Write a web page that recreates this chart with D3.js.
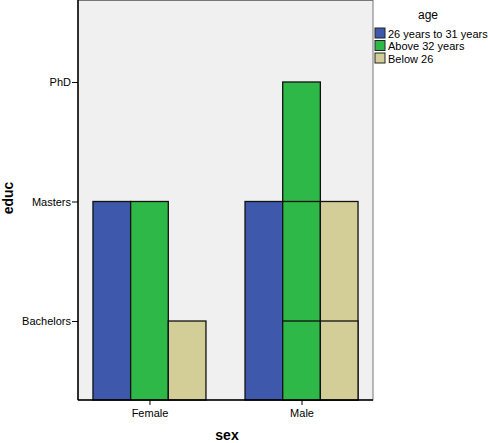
<!DOCTYPE html>
<html>
<head>
<meta charset="utf-8">
<script src="https://cdn.jsdelivr.net/npm/d3@7"></script>
<style>
  body { margin: 0; background: #fff; }
  text { font-family: "Liberation Sans", Arial, sans-serif; }
</style>
</head>
<body>
<svg id="chart" width="488" height="443"></svg>
<script>
// categories
var sexes = ["Female", "Male"];
var ages = ["26 years to 31 years", "Above 32 years", "Below 26"];
var educLevels = ["Bachelors", "Masters", "PhD"];

// one entry per case (sex, age, educ)
var caseSex  = ["Female", "Female", "Female", "Male", "Male", "Male", "Male", "Male", "Male"];
var caseAge  = ["26 years to 31 years", "Above 32 years", "Below 26",
                "26 years to 31 years", "Above 32 years", "Above 32 years", "Above 32 years",
                "Below 26", "Below 26"];
var caseEduc = ["Masters", "Masters", "Bachelors",
                "Masters", "Bachelors", "Masters", "PhD",
                "Bachelors", "Masters"];

var colors = ["#3e58ac", "#2eb848", "#d3ce97"];

var svg = d3.select("#chart");
var pL = 78, pR = 373, pT = 0, pB = 400;

var x0 = d3.scalePoint().domain(sexes).range([pL, pR]).padding(0.47);
var x1 = d3.scaleBand().domain(ages).range([-56.5, 56.5]);
var color = d3.scaleOrdinal().domain(ages).range(colors);

// educ as ordinal level 1..3
var y = d3.scaleLinear().domain([0.339, 3.686]).range([pB, pT]);
var level = function(e) { return educLevels.indexOf(e) + 1; };

// plot background
svg.append("rect")
  .attr("x", pL).attr("y", pT + 0.5)
  .attr("width", pR - pL).attr("height", pB - pT - 0.5)
  .attr("fill", "#f0f0f0")
  .attr("stroke", "#777").attr("stroke-width", 1);

var cases = caseSex.map(function(s, i) {
  return { sex: s, age: caseAge[i], educ: caseEduc[i] };
});
// taller bars first so shorter outlines show on top
cases.sort(function(a, b) { return level(b.educ) - level(a.educ); });

svg.append("g").selectAll("rect")
  .data(cases).enter().append("rect")
  .attr("x", function(d) { return x0(d.sex) + x1(d.age); })
  .attr("y", function(d) { return y(level(d.educ)); })
  .attr("width", x1.bandwidth())
  .attr("height", function(d) { return pB - y(level(d.educ)); })
  .attr("fill", function(d) { return color(d.age); })
  .attr("stroke", "#111")
  .attr("stroke-width", 1.3);

// axes
var yAxis = d3.axisLeft(y)
  .tickValues([1, 2, 3])
  .tickFormat(function(v) { return educLevels[v - 1]; })
  .tickSize(6).tickPadding(1).tickSizeOuter(0);
var gy = svg.append("g").attr("transform", "translate(" + pL + ",0)").call(yAxis);
gy.select(".domain").remove();
gy.selectAll("text").attr("font-size", 11).attr("fill", "#000")
  .style("font-family", "'Liberation Sans', Arial, sans-serif");

var xAxis = d3.axisBottom(x0).tickSize(5).tickPadding(4).tickSizeOuter(0);
var gx = svg.append("g").attr("transform", "translate(0," + pB + ")").call(xAxis);
gx.select(".domain").remove();
gx.selectAll("text").attr("font-size", 11).attr("fill", "#000")
  .style("font-family", "'Liberation Sans', Arial, sans-serif");

// axis lines
svg.append("line").attr("x1", pL).attr("x2", pL).attr("y1", pT).attr("y2", pB)
  .attr("stroke", "#000").attr("stroke-width", 1.5);
svg.append("line").attr("x1", pL).attr("x2", pR).attr("y1", pB).attr("y2", pB)
  .attr("stroke", "#000").attr("stroke-width", 1.5);

// axis titles
svg.append("text")
  .attr("transform", "translate(13,198) rotate(-90)")
  .attr("text-anchor", "middle")
  .attr("font-size", 14).attr("font-weight", "bold")
  .text("educ");
svg.append("text")
  .attr("x", 227).attr("y", 440)
  .attr("text-anchor", "middle")
  .attr("font-size", 14).attr("font-weight", "bold")
  .text("sex");

// legend
var legend = svg.append("g");
legend.append("text")
  .attr("x", 428).attr("y", 19)
  .attr("text-anchor", "middle")
  .attr("font-size", 12)
  .text("age");
var items = legend.selectAll("g.item").data(ages).enter().append("g")
  .attr("class", "item")
  .attr("transform", function(d, i) { return "translate(375," + (28 + i * 12.5) + ")"; });
items.append("rect")
  .attr("width", 10).attr("height", 10)
  .attr("fill", function(d) { return color(d); })
  .attr("stroke", "#222").attr("stroke-width", 1);
items.append("text")
  .attr("x", 13).attr("y", 9.5)
  .attr("font-size", 11)
  .text(function(d) { return d; });
</script>
</body>
</html>
